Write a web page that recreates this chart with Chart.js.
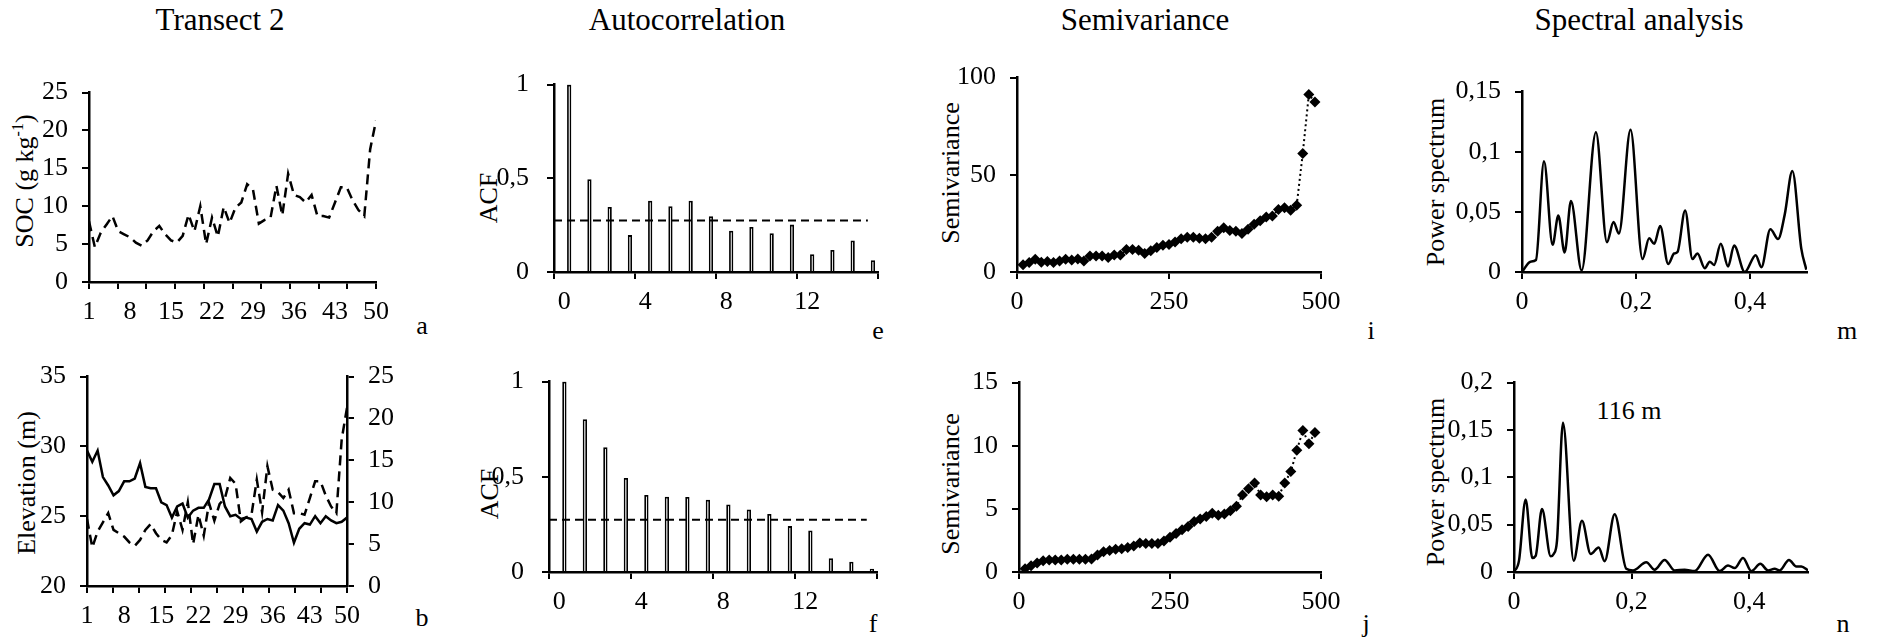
<!DOCTYPE html>
<html>
<head>
<meta charset="utf-8">
<script src="https://cdn.jsdelivr.net/npm/chart.js@4.4.1/dist/chart.umd.min.js"></script>
<style>
  body { margin: 0; width: 1879px; height: 641px; position: relative; background: #fff; overflow: hidden;
         font-family: 'Liberation Serif', 'Times New Roman', serif; color: #000; }
  canvas { position: absolute; }
  .txt { position: absolute; white-space: nowrap; line-height: 1; transform: translate(-50%, -50%); font-size: 26px; }
  .title { font-size: 31px; }
  .rot { transform: translate(-50%, -50%) rotate(-90deg); }
  sup { font-size: 16px; vertical-align: 10px; line-height: 0; }
</style>
</head>
<body>
<div class="txt title" style="left:220px;top:19px">Transect 2</div>
<div class="txt title" style="left:687px;top:19px">Autocorrelation</div>
<div class="txt title" style="left:1145px;top:19px">Semivariance</div>
<div class="txt title" style="left:1639px;top:19px">Spectral analysis</div>

<div class="txt rot" style="left:25px;top:181px">SOC (g kg<sup>-1</sup>)</div>
<div class="txt rot" style="left:27px;top:483px">Elevation (m)</div>
<div class="txt rot" style="left:489px;top:198px">ACF</div>
<div class="txt rot" style="left:490px;top:494px">ACF</div>
<div class="txt rot" style="left:951px;top:173px">Semivariance</div>
<div class="txt rot" style="left:951px;top:484px">Semivariance</div>
<div class="txt rot" style="left:1436px;top:182px">Power spectrum</div>
<div class="txt rot" style="left:1436px;top:482px">Power spectrum</div>

<div class="txt" style="left:1629px;top:411px">116 m</div>

<div class="txt" style="left:422px;top:326px">a</div>
<div class="txt" style="left:422px;top:618px">b</div>
<div class="txt" style="left:878px;top:331px">e</div>
<div class="txt" style="left:873px;top:624px">f</div>
<div class="txt" style="left:1371px;top:331px">i</div>
<div class="txt" style="left:1366px;top:624px">j</div>
<div class="txt" style="left:1847px;top:331px">m</div>
<div class="txt" style="left:1843px;top:624px">n</div>

<canvas id="pa"></canvas>
<canvas id="pb"></canvas>
<canvas id="pe"></canvas>
<canvas id="pf"></canvas>
<canvas id="pi"></canvas>
<canvas id="pj"></canvas>
<canvas id="pm"></canvas>
<canvas id="pn"></canvas>

<script>
// transect samples
const samples = [1,2,3,4,5,6,7,8,9,10,11,12,13,14,15,16,17,18,19,20,21,22,23,24,25,
                 26,27,28,29,30,31,32,33,34,35,36,37,38,39,40,41,42,43,44,45,46,47,48,49,50];
const sampleTickLabels = [1, 8, 15, 22, 29, 36, 43, 50];
const sampleTickMarks = 10; // intervals between tick marks

const soc = [8.0, 4.6, 6.5, 7.6, 8.7, 6.7, 6.3, 5.9, 5.2, 4.8, 5.5, 6.7, 7.4, 6.3, 5.5, 5.2, 6.1, 8.9, 6.7, 10.0,
             5.0, 8.5, 6.0, 9.9, 7.8, 9.8, 10.5, 12.9, 12.2, 7.7, 8.2, 8.5, 12.7, 8.8, 14.3, 11.5, 11.2, 10.5, 11.5, 8.7,
             8.7, 8.5, 10.5, 12.5, 12.5, 10.8, 9.5, 8.7, 17.5, 21.3];
const elevation = [29.7, 28.9, 29.7, 27.8, 27.2, 26.5, 26.8, 27.5, 27.5, 27.7, 28.8, 27.1, 27.0, 27.0, 26.0, 25.8, 24.9, 25.7, 25.9, 24.9,
                   25.4, 25.6, 25.6, 26.2, 27.3, 27.3, 25.7, 25.0, 25.1, 24.8, 24.9, 24.8, 23.9, 24.6, 24.8, 24.7, 25.8, 25.4, 24.5, 23.1,
                   24.1, 24.5, 24.4, 25.0, 24.5, 25.0, 24.7, 24.5, 24.6, 24.9];

// autocorrelation
const acfLags = [0,1,2,3,4,5,6,7,8,9,10,11,12,13,14,15];
const acfSoc = [1, 0.495, 0.347, 0.197, 0.38, 0.351, 0.38, 0.298, 0.22, 0.24, 0.207, 0.253, 0.095, 0.117, 0.168, 0.063];
const acfElev = [1, 0.802, 0.655, 0.494, 0.405, 0.395, 0.394, 0.38, 0.355, 0.328, 0.305, 0.241, 0.218, 0.072, 0.054, 0.017];
const acfLimit = 0.275;

// semivariance
const lags = [10,20,30,40,50,60,70,80,90,100,110,120,130,140,150,160,170,180,190,200,210,220,230,240,250,
              260,270,280,290,300,310,320,330,340,350,360,370,380,390,400,410,420,430,440,450,460,470,480,490];
const semiSoc = [3.7, 4.9, 6.5, 5.0, 5.4, 4.9, 5.7, 6.5, 6.2, 6.7, 5.7, 8.2, 8.2, 8.2, 7.5, 8.7, 8.7, 11.6, 11.6, 11.2,
                 9.5, 10.9, 12.6, 13.7, 14.1, 15.4, 17.1, 17.9, 17.9, 17.4, 17.1, 17.9, 21.0, 22.8, 21.3, 21.0, 19.8, 22.0, 24.6, 26.3,
                 28.3, 28.8, 32.2, 33.0, 31.8, 34.3, 61.0, 91.3, 87.4];
const semiElev = [0.26, 0.5, 0.72, 0.9, 0.96, 0.96, 0.96, 1.0, 1.0, 1.0, 1.0, 1.03, 1.35, 1.6, 1.7, 1.8, 1.85, 1.95, 2.05, 2.3,
                  2.25, 2.25, 2.25, 2.45, 2.75, 3.05, 3.35, 3.6, 4.0, 4.2, 4.4, 4.65, 4.5, 4.6, 4.85, 5.2, 6.1, 6.6, 7.05, 6.1,
                  5.95, 6.1, 6.0, 7.05, 7.95, 9.65, 11.2, 10.15, 11.05];

// spectra (frequency, power) read at peaks and troughs
const freqSoc = [0, 0.015, 0.0245, 0.0386, 0.0537, 0.0637, 0.0748, 0.0859, 0.1046, 0.1297, 0.149, 0.1606, 0.17, 0.1904,
                 0.2114, 0.2231, 0.2319, 0.2424, 0.2564, 0.267, 0.2728, 0.2862, 0.299, 0.3078, 0.3207, 0.3294, 0.337, 0.3487,
                 0.3616, 0.3721, 0.3908, 0.41, 0.42, 0.4357, 0.4492, 0.4609, 0.4743, 0.49, 0.4988];
const powerSoc = [0, 0.0086, 0.010, 0.092, 0.0226, 0.0469, 0.0162, 0.059, 0.0013, 0.1163, 0.0248, 0.0415, 0.032, 0.1182,
                  0.0108, 0.028, 0.0234, 0.0382, 0.0067, 0.0154, 0.0167, 0.0512, 0.0108, 0.0154, 0.0032, 0.0086, 0.0059, 0.0234,
                  0.0046, 0.0221, 0, 0.014, 0.004, 0.0356, 0.0275, 0.0477, 0.084, 0.0194, 0.002];
const freqElev = [0, 0.0085, 0.0198, 0.0312, 0.0368, 0.0476, 0.0624, 0.0675, 0.0731, 0.0833, 0.1015, 0.1156, 0.1304, 0.144,
                  0.1542, 0.1712, 0.191, 0.2024, 0.225, 0.2392, 0.2562, 0.2732, 0.2902, 0.3073, 0.33, 0.3498, 0.364, 0.3753,
                  0.3895, 0.4036, 0.419, 0.432, 0.4433, 0.4518, 0.4677, 0.4802, 0.4887, 0.5];
const powerElev = [0, 0.012, 0.0766, 0.0148, 0.017, 0.0666, 0.0166, 0.019, 0.0328, 0.1576, 0.012, 0.054, 0.019, 0.0259,
                   0.0114, 0.061, 0.0034, 0.0017, 0.0103, 0.0024, 0.0128, 0.0017, 0.0024, 0.001, 0.0183, 0.001, 0.0069, 0.0041,
                   0.0148, 0.001, 0.0086, 0.0017, 0.0034, 0.0017, 0.0128, 0.0059, 0.0059, 0.0017];

Chart.defaults.font.family = "'Liberation Serif', 'Times New Roman', serif";
Chart.defaults.font.size = 26;
Chart.defaults.color = '#000';
Chart.defaults.animation = false;
Chart.defaults.events = [];
Chart.defaults.plugins.legend.display = false;
Chart.defaults.plugins.tooltip.enabled = false;

const YW = 75, PT = 25, PR = 30, XH = 50;
const black = '#000', none = 'rgba(0,0,0,0)';
const comma = v => String(v).replace('.', ',');
const fixedTicks = vals => s => { s.ticks = vals.map(v => ({value: v})); };
const axisBorder = {display: true, color: black, width: 2.5};

function yAxis(min, max, vals, pos, width, pad) {
  return {
    type: 'linear', position: pos || 'left', min, max,
    afterBuildTicks: fixedTicks(vals),
    afterFit: s => { s.width = width || YW; },
    border: axisBorder,
    grid: {drawOnChartArea: false, tickLength: 7, lineWidth: 2, color: black},
    ticks: {padding: pad || 14, callback: comma}
  };
}

function xAxis(min, max, vals) {
  return {
    type: 'linear', min, max,
    afterBuildTicks: fixedTicks(vals),
    afterFit: s => { s.height = XH; },
    border: axisBorder,
    grid: {drawOnChartArea: false, tickLength: 7, lineWidth: 2, color: black},
    ticks: {padding: 8, autoSkip: false, maxRotation: 0, callback: comma}
  };
}

function sampleAxis() {
  const first = samples[0], span = samples[samples.length - 1] - samples[0];
  const isMark = v => { const k = (v - first) * sampleTickMarks / span; return Math.abs(k - Math.round(k)) < 1e-6; };
  const marks = [];
  for (let k = 0; k <= sampleTickMarks; k++) marks.push(first + k * span / sampleTickMarks);
  const vals = Array.from(new Set([...sampleTickLabels, ...marks])).sort((p, q) => p - q);
  const ax = xAxis(first, first + span, vals);
  ax.grid.color = c => (c.tick && isMark(c.tick.value)) ? black : none;
  ax.ticks.callback = v => sampleTickLabels.includes(v) ? String(v) : '';
  return ax;
}

function lagAxis() {
  return {
    type: 'category', offset: true,
    afterFit: s => { s.height = XH; },
    border: axisBorder,
    grid: {offset: true, drawOnChartArea: false, tickLength: 7, lineWidth: 2,
           color: c => (c.index === undefined || c.index % 4 === 0) ? black : none},
    ticks: {padding: 8, autoSkip: false, maxRotation: 0,
            callback: function (v, i) { return i % 4 === 0 ? this.getLabelForValue(v) : ''; }}
  };
}

function place(id, rect, config, rightW) {
  const c = document.getElementById(id);
  c.width = rect.r - rect.l + YW + PR + (rightW || 0);
  c.height = rect.b - rect.t + PT + XH;
  c.style.left = (rect.l - YW) + 'px';
  c.style.top = (rect.t - PT) + 'px';
  config.options.responsive = false;
  config.options.devicePixelRatio = 1;
  config.options.layout = {padding: {left: 0, top: PT, right: PR, bottom: 0}};
  return new Chart(c, config);
}

const pts = (xs, ys) => xs.map((x, i) => ({x, y: ys[i]}));

// a: SOC along transect
place('pa', {l: 89, t: 88, r: 376, b: 282}, {
  type: 'line',
  data: {datasets: [{data: pts(samples, soc), borderColor: black, borderWidth: 2.5, borderDash: [10, 6], pointRadius: 0}]},
  options: {scales: {x: sampleAxis(), y: yAxis(0, 25, [0, 5, 10, 15, 20, 25])}}
});

// b: elevation and SOC
place('pb', {l: 87, t: 372, r: 347, b: 586}, {
  type: 'line',
  data: {datasets: [
    {data: pts(samples, elevation), yAxisID: 'y', borderColor: black, borderWidth: 2.5, pointRadius: 0},
    {data: pts(samples, soc), yAxisID: 'y2', borderColor: black, borderWidth: 2.5, borderDash: [10, 6], pointRadius: 0}
  ]},
  options: {scales: {
    x: sampleAxis(),
    y: yAxis(20, 35, [20, 25, 30, 35]),
    y2: yAxis(0, 25, [0, 5, 10, 15, 20, 25], 'right', 60)
  }}
}, 60);

function acfChart(id, rect, values) {
  place(id, rect, {
    type: 'bar',
    data: {labels: acfLags.map(String), datasets: [
      {type: 'line', order: 0, xAxisID: 'xl', data: [{x: -0.5, y: acfLimit}, {x: acfLags[acfLags.length - 1], y: acfLimit}],
       borderColor: black, borderWidth: 2, borderDash: [8, 5], pointRadius: 0},
      {type: 'bar', order: 1, xAxisID: 'x', data: values, backgroundColor: '#fff', borderColor: black, borderWidth: 1.8,
       barPercentage: 0.42, categoryPercentage: 1}
    ]},
    options: {scales: {
      x: lagAxis(),
      xl: {type: 'linear', display: false, offset: false, grid: {offset: false},
           min: -0.5, max: acfLags.length - 0.5},
      y: yAxis(0, 1, [0, 0.5, 1], 'left', YW, 18)
    }}
  });
}
acfChart('pe', {l: 554, t: 76, r: 878, b: 272}, acfSoc);
acfChart('pf', {l: 549, t: 373, r: 877, b: 572}, acfElev);

function semiChart(id, rect, values, ymax, yticks) {
  place(id, rect, {
    type: 'line',
    data: {datasets: [{data: pts(lags, values), borderColor: black, borderWidth: 2, borderDash: [2, 3],
      pointStyle: 'rectRot', pointRadius: 5.5, pointBackgroundColor: black, pointBorderColor: black, pointBorderWidth: 0}]},
    options: {scales: {x: xAxis(0, 500, [0, 250, 500]), y: yAxis(0, ymax, yticks)}}
  });
}
semiChart('pi', {l: 1017, t: 73, r: 1321, b: 272}, semiSoc, 100, [0, 50, 100]);
semiChart('pj', {l: 1019, t: 378, r: 1321, b: 572}, semiElev, 15, [0, 5, 10, 15]);

function specChart(id, rect, fx, py, ymax, yticks) {
  place(id, rect, {
    type: 'line',
    data: {datasets: [{data: pts(fx, py), borderColor: black, borderWidth: 2.5, pointRadius: 0,
      cubicInterpolationMode: 'monotone'}]},
    options: {scales: {x: xAxis(0, 0.5, [0, 0.2, 0.4]), y: yAxis(0, ymax, yticks)}}
  });
}
specChart('pm', {l: 1522, t: 87, r: 1807, b: 272}, freqSoc, powerSoc, 0.15, [0, 0.05, 0.1, 0.15]);
specChart('pn', {l: 1514, t: 378, r: 1808, b: 572}, freqElev, powerElev, 0.2, [0, 0.05, 0.1, 0.15, 0.2]);
</script>
</body>
</html>
